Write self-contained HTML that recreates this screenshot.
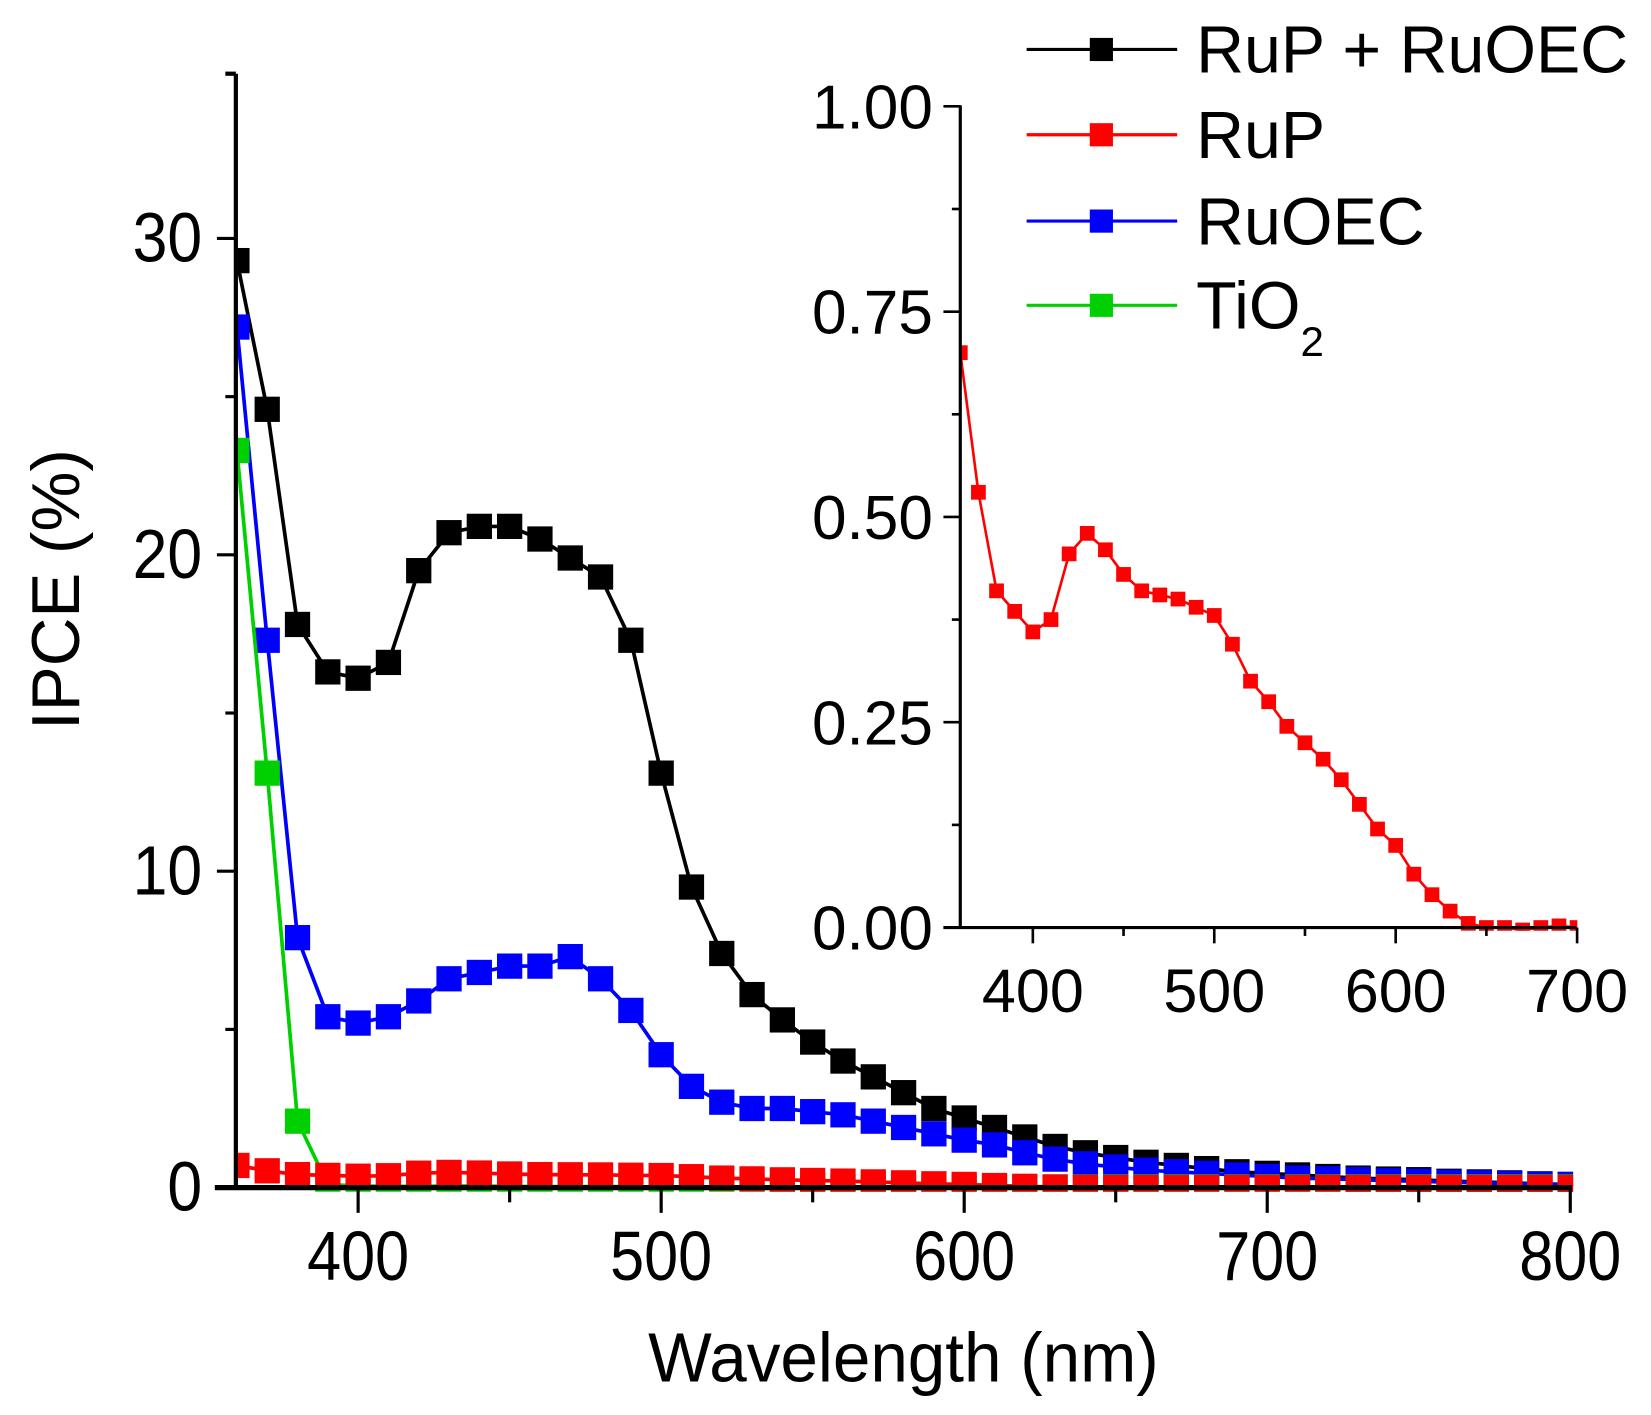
<!DOCTYPE html>
<html><head><meta charset="utf-8"><style>
html,body{margin:0;padding:0;background:#fff}
svg{display:block}
text{font-family:"Liberation Sans",Arial,sans-serif;fill:#000}
</style></head><body>
<svg id="chart" width="1651" height="1415" viewBox="0 0 1568 1344" preserveAspectRatio="none" xmlns="http://www.w3.org/2000/svg">
<defs>
<clipPath id="mainClip"><rect x="224" y="0" width="1270" height="1132"/></clipPath>
<clipPath id="insetClip"><rect x="912" y="60" width="586" height="824"/></clipPath>
</defs>
<g id="main"></g>
<g id="inset"></g>
<g id="legend"></g>
</svg>
<script>
const wavelengths = [360,370,380,390,400,410,420,430,440,450,460,470,480,490,500,510,520,530,540,550,560,570,580,590,600,610,620,630,640,650,660,670,680,690,700,710,720,730,740,750,760,770,780,790,800];
const rupRuoec = [29.3,24.6,17.8,16.3,16.1,16.6,19.5,20.7,20.9,20.9,20.5,19.9,19.3,17.3,13.1,9.5,7.4,6.1,5.3,4.6,4.0,3.5,3.0,2.5,2.2,1.9,1.6,1.3,1.1,0.95,0.8,0.7,0.6,0.5,0.45,0.4,0.35,0.3,0.27,0.25,0.2,0.18,0.15,0.12,0.1];
const ruoec = [27.2,17.3,7.9,5.4,5.2,5.4,5.9,6.6,6.8,7.0,7.0,7.3,6.6,5.6,4.2,3.2,2.7,2.5,2.5,2.4,2.3,2.1,1.9,1.7,1.5,1.35,1.1,0.9,0.75,0.65,0.55,0.5,0.45,0.4,0.35,0.3,0.28,0.25,0.22,0.2,0.17,0.15,0.13,0.11,0.1];
const tio2 = [23.3,13.1,2.1,0.1,0.05,0.04,0.04,0.05,0.05,0.04,0.03,0.03,0.03,0.03,0.02,0.02,0.02,0.02,0.02,0.02,0.02,0.02,0.02,0.02,0.02,0.02,0.02,0.02,0.02,0.02,0.02,0.02,0.02,0.02,0.02,0.02,0.02,0.02,0.02,0.02,0.02,0.02,0.02,0.02,0.02];
const rup = [0.70,0.53,0.41,0.385,0.36,0.375,0.455,0.48,0.46,0.43,0.41,0.405,0.40,0.39,0.38,0.345,0.30,0.275,0.245,0.225,0.205,0.18,0.15,0.12,0.10,0.065,0.04,0.02,0.005,0.0,0.0,-0.003,0.0,0.002,0.0,0,0,0,0,0,0,0,0,0,0];
const mainXTicks = [400,500,600,700,800];
const mainYTicks = [0,10,20,30];
const insetXTicks = [400,500,600,700];
const insetYTicks = ["0.00","0.25","0.50","0.75","1.00"];

const NS="http://www.w3.org/2000/svg";
function el(tag, attrs, parent, txt){const e=document.createElementNS(NS,tag);for(const k in attrs)e.setAttribute(k,attrs[k]);if(txt!==undefined)e.textContent=txt;parent.appendChild(e);return e;}

const mx = v => 225 + (v-360)*2.878;
const my = v => 1128 - v*30.05;
const main = document.getElementById('main');
const series = [
  {name:'tio2', data:tio2, color:'#00d000'},
  {name:'rup', data:rup, color:'#ff0000'},
  {name:'ruoec', data:ruoec, color:'#0000ff'},
  {name:'rup-ruoec', data:rupRuoec, color:'#000000'}
];
const order = [series[3],series[2],series[0],series[1]];
const plotG = el('g',{'clip-path':'url(#mainClip)'},main);
order.forEach(s=>{
  const g = el('g',{},plotG);
  
  
  const pts = wavelengths.map((w,i)=>mx(w).toFixed(1)+','+my(s.data[i]).toFixed(1)).join(' ');
  const pl = el('polyline',{points:pts,fill:'none',stroke:s.color,'stroke-width':3.5},g);
  
  
  wavelengths.forEach((w,i)=>{
    const r = el('rect',{x:mx(w)-12,y:my(s.data[i])-12,width:24,height:24,fill:s.color},g);
    
    
  });
});
const ax = el('line',{x1:204,y1:1128,x2:1493,y2:1128,stroke:'#000','stroke-width':5},main);
 
const ay = el('line',{x1:224,y1:70,x2:224,y2:1130,stroke:'#000','stroke-width':4},main);
 
el('line',{x1:214,y1:70,x2:224,y2:70,stroke:'#000','stroke-width':4},main);
for(let v=400; v<=800; v+=50){
  const major = v%100===0;
  el('line',{x1:mx(v),y1:1128,x2:mx(v),y2:major?1152:1142,stroke:'#000','stroke-width':3},main);
}
mainXTicks.forEach(v=>{
  const t = el('text',{x:mx(v),y:1216,'font-size':66,'text-anchor':'middle',transform:`translate(${mx(v)},0) scale(0.88,1) translate(${-mx(v)},0)`},main,String(v));
   
});
for(let v=5; v<=30; v+=5){
  const major = v%10===0;
  el('line',{x1:major?206:214,y1:my(v),x2:224,y2:my(v),stroke:'#000','stroke-width':3},main);
}
mainYTicks.forEach(v=>{
  const t = el('text',{x:192,y:my(v)+22,'font-size':66,'text-anchor':'end',transform:`translate(192,0) scale(0.9,1) translate(-192,0)`},main,String(v));
   
});
const xt = el('text',{x:858,y:1312,'font-size':66,'text-anchor':'middle',transform:'translate(858,0) scale(0.97,1) translate(-858,0)'},main,'Wavelength (nm)');
 
const yt = el('text',{x:0,y:0,'font-size':64,'text-anchor':'middle',transform:'translate(75,560) rotate(-90)'},main,'IPCE (%)');
 

const ix = v => 912 + (v-360)*1.723;
const iy = v => 881 - v*780;
const inset = document.getElementById('inset');
const ig = el('g',{'clip-path':'url(#insetClip)'},inset);
const ipts = wavelengths.filter(w=>w<=700).map((w,i)=>ix(w).toFixed(1)+','+iy(rup[i]).toFixed(1)).join(' ');
const ipl = el('polyline',{points:ipts,fill:'none',stroke:'#ff0000','stroke-width':2.5},ig);
 
wavelengths.forEach((w,i)=>{ if(w>700) return;
  const r = el('rect',{x:ix(w)-7,y:iy(rup[i])-7,width:14,height:14,fill:'#ff0000'},ig);
   
});
el('line',{x1:896,y1:881,x2:1497,y2:881,stroke:'#000','stroke-width':3},inset);
el('line',{x1:912,y1:100,x2:912,y2:882,stroke:'#000','stroke-width':3},inset);
for(let v=400; v<=700; v+=50){
  const major=v%100===0;
  el('line',{x1:ix(v),y1:881,x2:ix(v),y2:major?896:889,stroke:'#000','stroke-width':2.5},inset);
}
insetXTicks.forEach(v=>{
  const t = el('text',{x:ix(v),y:961,'font-size':58,'text-anchor':'middle'},inset,String(v));
   
});
for(let k=0;k<=8;k++){
  const v=k*0.125; const major=k%2===0;
  el('line',{x1:major?896:904,y1:iy(v),x2:912,y2:iy(v),stroke:'#000','stroke-width':2.5},inset);
}
insetYTicks.forEach(s=>{
  const t = el('text',{x:886,y:iy(parseFloat(s))+21,'font-size':59,'text-anchor':'end'},inset,s);
   
});

const legend = document.getElementById('legend');
const legItems = [['RuP + RuOEC','#000000',47],['RuP','#ff0000',128],['RuOEC','#0000ff',210],['TiO','#00d000',290]];
legItems.forEach(([label,color,y])=>{
  const g = el('g',{},legend);
  
  
  el('line',{x1:975,y1:y,x2:1118,y2:y,stroke:color,'stroke-width':3},g);
  el('rect',{x:1035,y:y-11,width:22,height:22,fill:color},g);
  const t = el('text',{x:1136,y:y+22,'font-size':63},g,label);
  if(label==='TiO'){ el('tspan',{'font-size':40,dy:26},t,'2'); }
});
</script>
</body></html>
